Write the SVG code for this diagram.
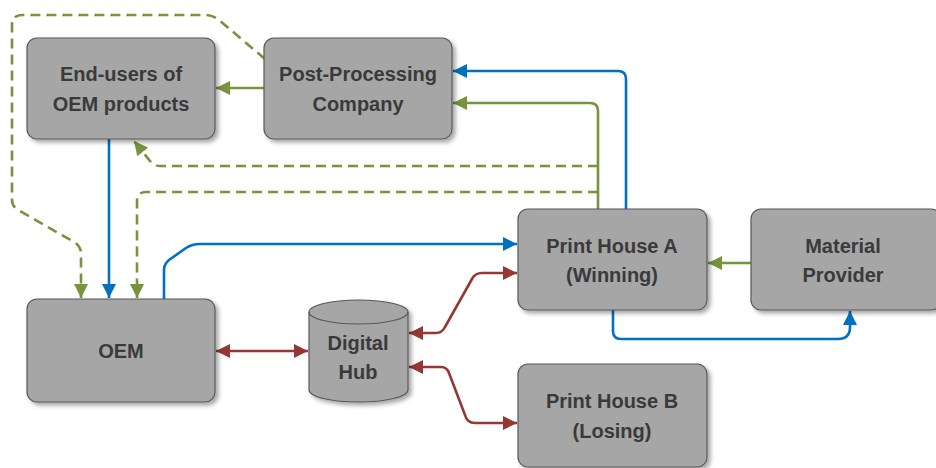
<svg xmlns="http://www.w3.org/2000/svg" width="936" height="468" viewBox="0 0 936 468">
<defs>
<style>
.box{fill:#a6a6a6;stroke:#595959;stroke-width:1.2;filter:url(#sh)}
.t{font-family:"Liberation Sans",Arial,sans-serif;font-weight:bold;font-size:20px;fill:#3a3a3a;text-anchor:middle}
.c{fill:none;stroke-width:2.6;stroke-linejoin:round}
.g{stroke:#77933c;marker-end:url(#ag)}
.gd{stroke:#77933c;stroke-dasharray:10 6;marker-end:url(#ag)}
.b{stroke:#0070c0;marker-end:url(#ab)}
.r{stroke:#953735;marker-end:url(#ar);marker-start:url(#ar)}
</style>
<filter id="sh" x="-10%" y="-10%" width="125%" height="130%">
<feDropShadow dx="3" dy="3" stdDeviation="2" flood-color="#000" flood-opacity="0.35"/>
</filter>
<marker id="ag" markerUnits="userSpaceOnUse" markerWidth="16" markerHeight="14" refX="14" refY="7" orient="auto-start-reverse"><path d="M0,0L14,7L0,14z" fill="#77933c"/></marker>
<marker id="ab" markerUnits="userSpaceOnUse" markerWidth="16" markerHeight="14" refX="14" refY="7" orient="auto-start-reverse"><path d="M0,0L14,7L0,14z" fill="#0070c0"/></marker>
<marker id="ar" markerUnits="userSpaceOnUse" markerWidth="16" markerHeight="14" refX="14" refY="7" orient="auto-start-reverse"><path d="M0,0L14,7L0,14z" fill="#953735"/></marker>
</defs>
<rect width="936" height="468" fill="#fff"/>
<g id="connectors">
<path class="c g" d="M264,88H216"/>
<path class="c g" d="M598,209V111Q598,103 590,103H453"/>
<path class="c b" d="M626,209V79Q626,71 618,71H453"/>
<path class="c gd" d="M598,166H160Q154,166 150,161L134,141"/>
<path class="c gd" d="M598,192H146Q137,192 137,201V298"/>
<path class="c gd" d="M265,59L219,20Q213,15 205,15H22Q12,15 12,25V200Q12,207 20,211L74,242Q81,246 81,254V298"/>
<path class="c b" d="M109,139V298"/>
<path class="c b" d="M164,299V270Q164,264 169,260L186,248Q192,244 200,244H517"/>
<path class="c b" d="M613,310V331Q613,339 621,339H838Q850,339 850,327V311"/>
<path class="c g" d="M751,263H708"/>
<path class="c r" d="M216,351H308"/>
<path class="c r" d="M409,333H436Q442,333 445,327L472,279Q475,273 482,273H517"/>
<path class="c r" d="M409,367H441Q447,367 449,373L465,415Q467,423 475,423H517"/>
</g>
<g id="endusers"><rect class="box" x="27" y="38" width="188" height="101" rx="10"/><text class="t" x="121" y="81">End-users of</text><text class="t" x="121" y="111">OEM products</text></g>
<g id="postprocessing"><rect class="box" x="264" y="38" width="188" height="101" rx="10"/><text class="t" x="358" y="81">Post-Processing</text><text class="t" x="358" y="111">Company</text></g>
<g id="printhouseA"><rect class="box" x="518" y="209" width="189" height="101" rx="10"/><text class="t" x="612" y="253">Print House A</text><text class="t" x="612" y="282">(Winning)</text></g>
<g id="material"><rect class="box" x="751" y="209" width="190" height="101" rx="10"/><text class="t" x="843" y="253">Material</text><text class="t" x="843" y="282">Provider</text></g>
<g id="oem"><rect class="box" x="27" y="299" width="188" height="103" rx="10"/><text class="t" x="121" y="358">OEM</text></g>
<g id="hub"><path class="box" d="M309,312A49.5,12 0 0 1 408,312V390A49.5,12 0 0 1 309,390Z"/><path d="M309,312A49.5,12 0 0 0 408,312" fill="none" stroke="#595959" stroke-width="1.2"/><text class="t" x="358" y="350">Digital</text><text class="t" x="358" y="379">Hub</text></g>
<g id="printhouseB"><rect class="box" x="518" y="364" width="189" height="103" rx="10"/><text class="t" x="612" y="408">Print House B</text><text class="t" x="612" y="438">(Losing)</text></g>
</svg>
